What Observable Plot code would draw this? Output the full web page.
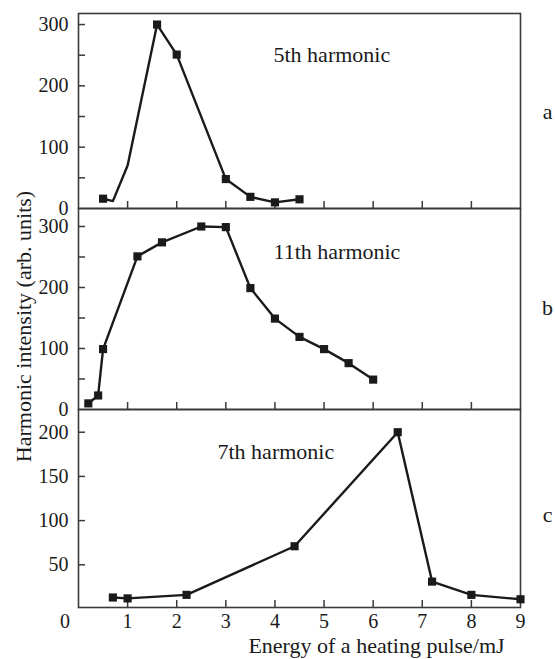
<!DOCTYPE html>
<html><head><meta charset="utf-8">
<script src="https://cdn.jsdelivr.net/npm/d3@7"></script>
<script src="https://cdn.jsdelivr.net/npm/@observablehq/plot@0.6"></script>
<style>
html,body{margin:0;padding:0;background:#fff;}
#chart{position:relative;width:555px;height:659px;overflow:hidden;}
#chart svg{position:absolute;left:0;}
</style></head><body><div id="chart"></div>
<script>
// Panel a: 5th harmonic
const energyA = [0.5, 0.7, 1.0, 1.6, 2.0, 3.0, 3.5, 4.0, 4.5];
const intensityA = [16, 12, 70, 300, 251, 48, 19, 10, 15];
const markedA = [true, false, false, true, true, true, true, true, true];
// Panel b: 11th harmonic
const energyB = [0.2, 0.4, 0.5, 1.2, 1.7, 2.5, 3.0, 3.5, 4.0, 4.5, 5.0, 5.5, 6.0];
const intensityB = [10, 23, 99, 251, 274, 300, 299, 199, 149, 119, 99, 76, 49];
// Panel c: 7th harmonic
const energyC = [0.7, 1.0, 2.2, 4.4, 6.5, 7.2, 8.0, 9.0];
const intensityC = [13, 12, 16, 71, 200, 31, 16, 11];

const titles = ["5th harmonic", "11th harmonic", "7th harmonic"];
const letters = ["a", "b", "c"];
const yTicksAB = [50, 100, 150, 200, 250, 300];
const yLabelsAB = [0, 100, 200, 300];
const yTicksC = [50, 100, 150, 200];
const yLabelsC = [50, 100, 150, 200];
const xInnerTicks = [1, 2, 3, 4, 5, 6, 7, 8];
const xLabels = [1, 2, 3, 4, 5, 6, 7, 8, 9];
const xZeroLabel = [0];
const yTitle = "Harmonic intensity (arb. units)";
const xTitle = "Energy of a heating pulse/mJ";

const INK = "#1a1a1a";
const FRAME = "#3a3a3a";

// pick the first installed Times-like serif
function pickFont(cands) {
  const ctx = document.createElement("canvas").getContext("2d");
  const s = "Harmonic intensity 0123456789 mmmWWWiii";
  ctx.font = "40px monospace"; const wm = ctx.measureText(s).width;
  ctx.font = "40px sans-serif"; const ws = ctx.measureText(s).width;
  for (const f of cands) {
    ctx.font = `40px "${f}", monospace`; const a = ctx.measureText(s).width;
    ctx.font = `40px "${f}", sans-serif`; const b = ctx.measureText(s).width;
    if (a !== wm || b !== ws) return `"${f}"`;
  }
  return "serif";
}
const FONT = pickFont(["Liberation Serif", "Times New Roman", "Tinos", "Times", "Nimbus Roman", "DejaVu Serif"]) + ", serif";

function makePanel(cfg) {
  const data = cfg.energy.map((e, i) => ({energy: e, intensity: cfg.intensity[i], marked: cfg.marked ? cfg.marked[i] : true}));
  const marks = [
    Plot.frame({stroke: FRAME, strokeWidth: 1.6}),
    Plot.axisY(cfg.yTicks, {anchor: "left", tickSize: -7, tickFormat: () => "", stroke: FRAME, strokeWidth: 1.5}),
    Plot.axisY(cfg.yLabels, {anchor: "left", tickSize: 0, tickPadding: 10, fill: INK, fontSize: 20}),
    Plot.axisX(xInnerTicks, {anchor: "bottom", tickSize: -7, tickFormat: () => "", stroke: FRAME, strokeWidth: 1.5}),
    Plot.line(data, {x: "energy", y: "intensity", stroke: INK, strokeWidth: 2.4}),
    Plot.dot(data.filter(d => d.marked), {x: "energy", y: "intensity", symbol: "square", r: 4.6, fill: INK, stroke: null}),
    Plot.text([cfg.title], {text: d => d, frameAnchor: "top-left", textAnchor: "start", lineAnchor: "middle", dx: cfg.titleDx, dy: cfg.titleDy, fontSize: 22, fill: INK}),
    Plot.text([cfg.letter], {text: d => d, frameAnchor: "right", textAnchor: "middle", lineAnchor: "middle", dx: 27, dy: cfg.letterDy, fontSize: 22, fill: INK})
  ];
  if (cfg.extra) marks.push(...cfg.extra);
  const svg = Plot.plot({
    width: 555,
    height: cfg.height,
    marginTop: cfg.marginTop,
    marginBottom: cfg.marginBottom,
    marginLeft: 78,
    marginRight: 35,
    x: {domain: [0, 9], label: null},
    y: {domain: cfg.yDomain, label: null},
    style: {background: "transparent", overflow: "visible", fontFamily: FONT, fontSize: "20px", color: INK},
    marks
  });
  svg.style.top = cfg.top + "px";
  return svg;
}

const chart = document.getElementById("chart");
chart.appendChild(makePanel({
  energy: energyA, intensity: intensityA, marked: markedA,
  yDomain: [0, 318], top: 0, height: 208, marginTop: 13, marginBottom: 0,
  yTicks: yTicksAB, yLabels: yLabelsAB, title: titles[0], titleDx: 195, titleDy: 41.5,
  letter: letters[0], letterDy: 0.5
}));
chart.appendChild(makePanel({
  energy: energyB, intensity: intensityB,
  yDomain: [0, 329.5], top: 208, height: 201, marginTop: 0, marginBottom: 0,
  yTicks: yTicksAB, yLabels: yLabelsAB, title: titles[1], titleDx: 195, titleDy: 43,
  letter: letters[1], letterDy: -1,
  extra: [
    Plot.text([yTitle], {text: d => d, frameAnchor: "left", textAnchor: "middle", lineAnchor: "middle", rotate: -90, dx: -55, dy: 17.5, fontSize: 22, fill: INK})
  ]
}));
chart.appendChild(makePanel({
  energy: energyC, intensity: intensityC,
  yDomain: [1.7, 225.7], top: 409, height: 250, marginTop: 0, marginBottom: 52,
  yTicks: yTicksC, yLabels: yLabelsC, title: titles[2], titleDx: 139, titleDy: 42,
  letter: letters[2], letterDy: 6.7,
  extra: [
    Plot.axisX(xLabels, {anchor: "bottom", tickSize: 0, tickPadding: 6, fill: INK, fontSize: 20}),
    Plot.axisX(xZeroLabel, {anchor: "bottom", tickSize: 0, tickPadding: 6, dx: -13.5, fill: INK, fontSize: 20}),
    Plot.text([xTitle], {text: d => d, frameAnchor: "bottom", textAnchor: "middle", lineAnchor: "middle", dx: 77, dy: 38.5, fontSize: 22, fill: INK})
  ]
}));
</script></body></html>
